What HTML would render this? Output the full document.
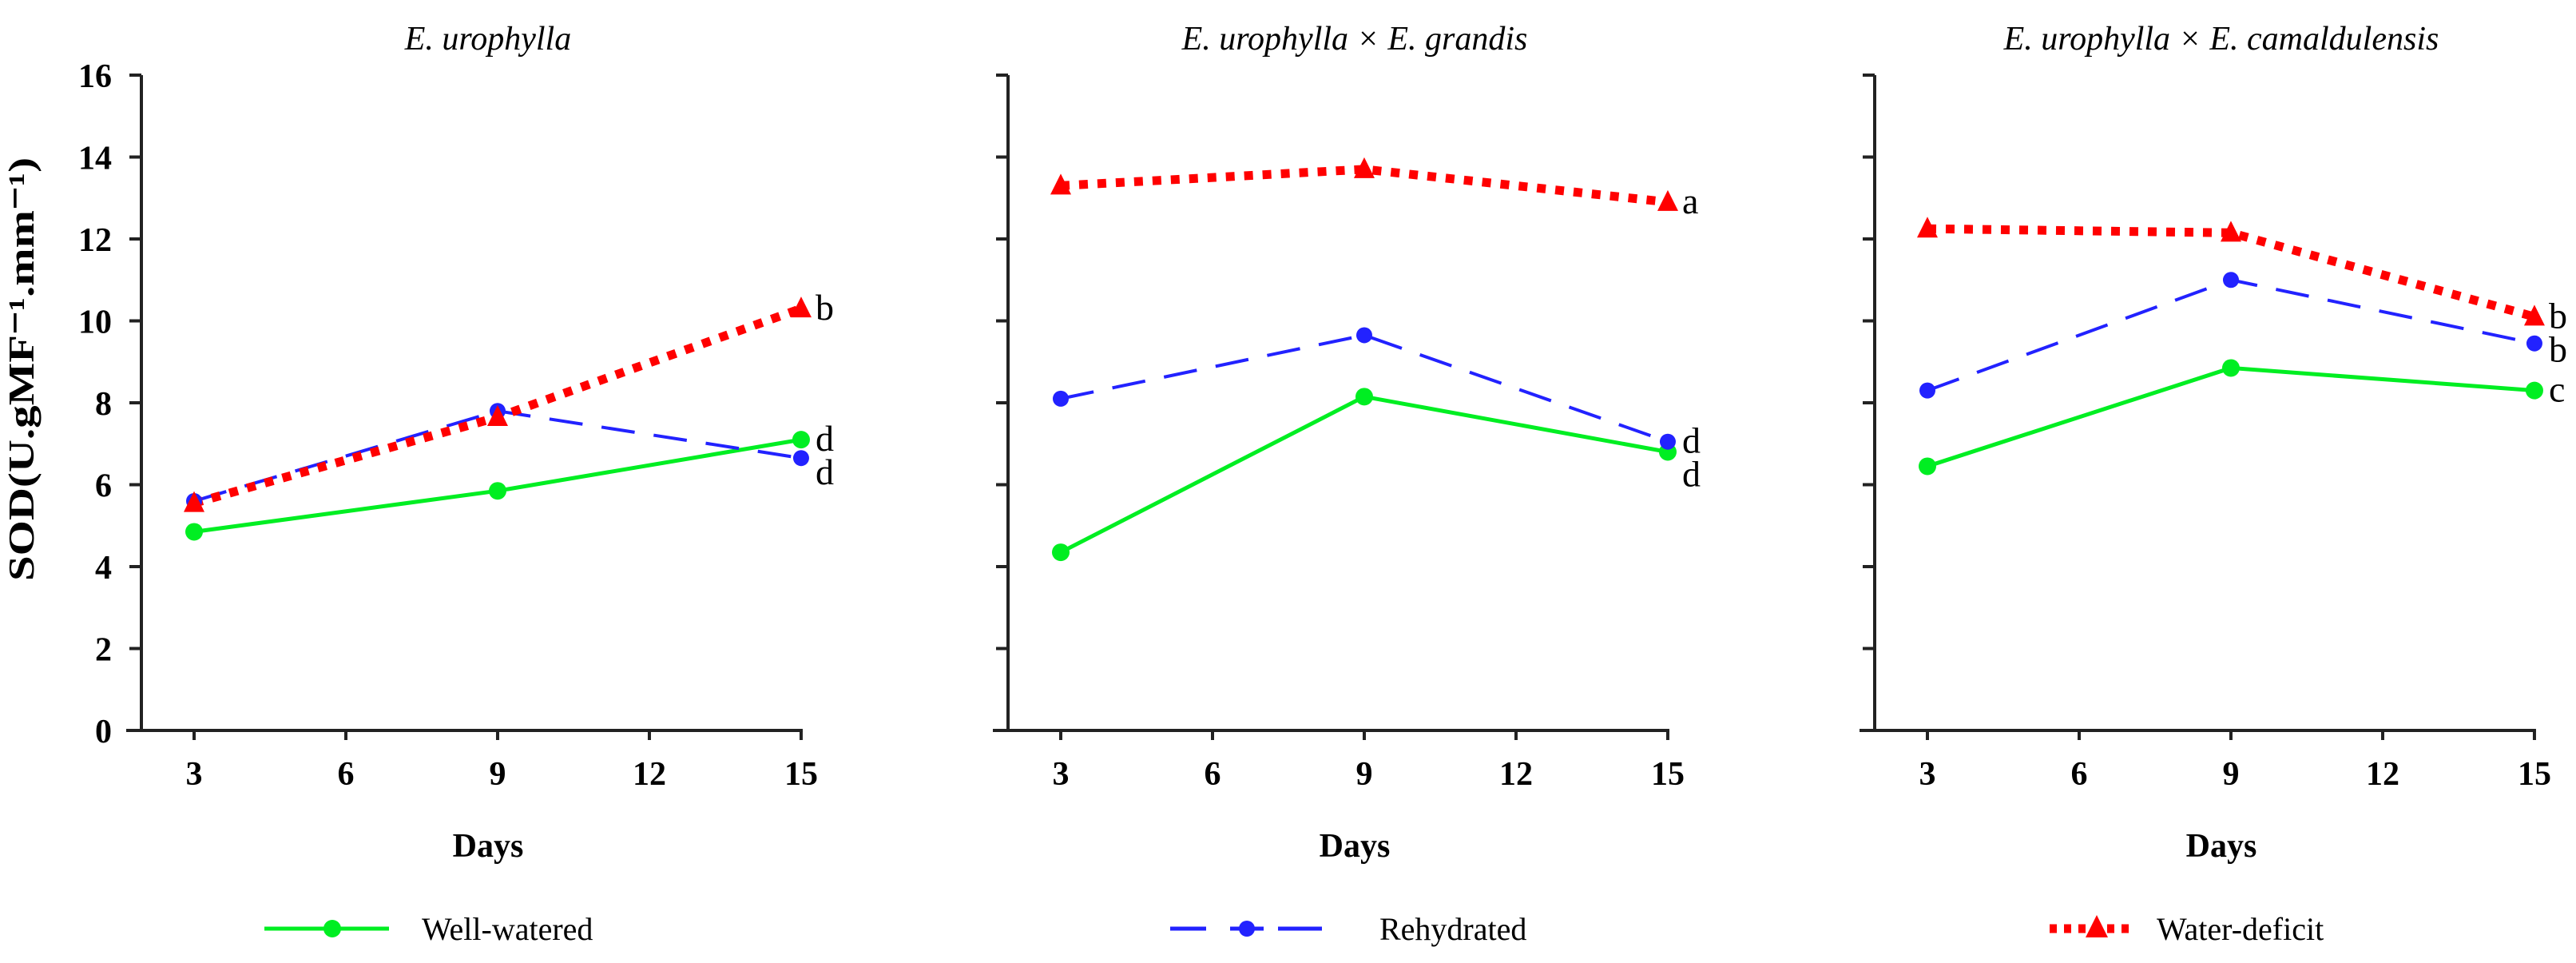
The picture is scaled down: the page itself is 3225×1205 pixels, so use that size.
<!DOCTYPE html>
<html><head><meta charset="utf-8"><style>
html,body{margin:0;padding:0;background:#fff;}
svg{display:block;font-family:"Liberation Serif",serif;}
</style></head><body>
<svg id="chart" width="3225" height="1205" viewBox="0 0 3225 1205">
<text x="42" y="462" transform="rotate(-90 42 462)" text-anchor="middle" font-weight="bold" font-size="46" textLength="530" lengthAdjust="spacingAndGlyphs">SOD(U.gMF⁻¹.mm⁻¹)</text>
<g id="panels"></g>
<g id="legend"></g>
</svg>
<script>
const titles = ["E. urophylla", "E. urophylla × E. grandis", "E. urophylla × E. camaldulensis"];
const days = [3, 9, 15];
const xTicks = [3, 6, 9, 12, 15];
const yTicks = [0, 2, 4, 6, 8, 10, 12, 14, 16];
const wellWatered = [[4.85, 5.85, 7.1], [4.35, 8.15, 6.8], [6.45, 8.85, 8.3]];
const rehydrated = [[5.6, 7.8, 6.65], [8.1, 9.65, 7.05], [8.3, 11.0, 9.45]];
const waterDeficit = [[5.55, 7.65, 10.3], [13.3, 13.7, 12.9], [12.25, 12.15, 10.1]];
const letters = [["d", "d", "b"], ["d", "d", "a"], ["c", "b", "b"]];

const NS = "http://www.w3.org/2000/svg";
const root = document.getElementById('panels');
function mk(tag, attrs, parent, txt) {
  const e = document.createElementNS(NS, tag);
  for (const k in attrs) e.setAttribute(k, attrs[k]);
  if (txt !== undefined) e.textContent = txt;
  parent.appendChild(e);
  return e;
}
const Y0 = 914, YU = 51.25, PANEL_W = 1085, AX0 = 177, DAY = 63.33;
function yS(v) { return Y0 - v * YU; }

for (let p = 0; p < 3; p++) {
  const ax = AX0 + p * PANEL_W;
  const xS = d => ax + 66 + (d - 3) * DAY;
  const g = mk('g', {}, root);
  
  
  const t = mk('text', {x: ax + 434, y: 62, 'text-anchor': 'middle', 'font-style': 'italic', 'font-size': 42}, g, titles[p]);
  
  
  const yl = mk('line', {x1: ax, y1: yS(16), x2: ax, y2: Y0, stroke: '#222', 'stroke-width': 4}, g);
  
  
  const xl = mk('line', {x1: ax - 19, y1: Y0, x2: xS(15) + 2, y2: Y0, stroke: '#222', 'stroke-width': 4}, g);
  
  
  yTicks.forEach(v => {
    const tk = mk('line', {x1: ax - 15, y1: yS(v), x2: ax, y2: yS(v), stroke: '#222', 'stroke-width': 4}, g);
    
    
    if (p === 0) {
      const tl = mk('text', {x: 140, y: yS(v) + 15, 'text-anchor': 'end', 'font-weight': 'bold', 'font-size': 42}, g, String(v));
      
      
    }
  });
  xTicks.forEach(d => {
    const tk = mk('line', {x1: xS(d), y1: Y0, x2: xS(d), y2: Y0 + 12, stroke: '#222', 'stroke-width': 4}, g);
    
    
    const tl = mk('text', {x: xS(d), y: 982, 'text-anchor': 'middle', 'font-weight': 'bold', 'font-size': 42}, g, String(d));
    
    
  });
  const dl = mk('text', {x: xS(9) - 12, y: 1072, 'text-anchor': 'middle', 'font-weight': 'bold', 'font-size': 42}, g, 'Days');
  
  

  const pts = arr => days.map((d, i) => xS(d) + ',' + yS(arr[i])).join(' ');
  const ww = mk('polyline', {points: pts(wellWatered[p]), fill: 'none', stroke: '#00ee22', 'stroke-width': 5}, g);
  
  
  const rh = mk('polyline', {points: pts(rehydrated[p]), fill: 'none', stroke: '#2222ff', 'stroke-width': 4, 'stroke-dasharray': '42 24'}, g);
  
  
  const wd = mk('polyline', {points: pts(waterDeficit[p]), fill: 'none', stroke: '#ff0000', 'stroke-width': 11, 'stroke-dasharray': '11 12'}, g);
  
  
  days.forEach((d, i) => {
    const c1 = mk('circle', {cx: xS(d), cy: yS(wellWatered[p][i]), r: 11, fill: '#00ee22'}, g);
    
    
    const c2 = mk('circle', {cx: xS(d), cy: yS(rehydrated[p][i]), r: 10, fill: '#2222ff'}, g);
    
    
    const x = xS(d), y = yS(waterDeficit[p][i]);
    const tr = mk('polygon', {points: (x - 13) + ',' + (y + 11) + ' ' + (x + 13) + ',' + (y + 11) + ' ' + x + ',' + (y - 15), fill: '#ff0000'}, g);
    
    
  });
  const lx = xS(15) + 18;
  const series = [wellWatered[p][2], rehydrated[p][2], waterDeficit[p][2]];
  const order = [0, 1, 2];
  let ys = series.map(v => yS(v) + 14);
  const idx = order.slice().sort((a, b) => ys[a] - ys[b]);
  for (let k = 1; k < idx.length; k++) {
    if (ys[idx[k]] - ys[idx[k - 1]] < 42) ys[idx[k]] = ys[idx[k - 1]] + 42;
  }
  order.forEach(s => {
    const l = mk('text', {x: lx, y: ys[s], 'font-size': 46}, g, letters[p][s]);
    
    
  });
}

const lg = document.getElementById('legend');
const items = [
  {label: 'Well-watered', tx: 528, type: 'ww'},
  {label: 'Rehydrated', tx: 1727, type: 'rh'},
  {label: 'Water-deficit', tx: 2700, type: 'wd'}
];
const LY = 1162;
items.forEach(it => {
  const g = mk('g', {}, lg);
  
  
  if (it.type === 'ww') {
    mk('line', {x1: 331, y1: LY, x2: 487, y2: LY, stroke: '#00ee22', 'stroke-width': 5}, g);
    mk('circle', {cx: 416, cy: LY, r: 11, fill: '#00ee22'}, g);
  } else if (it.type === 'rh') {
    mk('line', {x1: 1465, y1: LY, x2: 1510, y2: LY, stroke: '#2222ff', 'stroke-width': 5}, g);
    mk('line', {x1: 1540, y1: LY, x2: 1582, y2: LY, stroke: '#2222ff', 'stroke-width': 5}, g);
    mk('line', {x1: 1600, y1: LY, x2: 1655, y2: LY, stroke: '#2222ff', 'stroke-width': 5}, g);
    mk('circle', {cx: 1561, cy: LY, r: 10, fill: '#2222ff'}, g);
  } else {
    mk('line', {x1: 2566, y1: LY, x2: 2666, y2: LY, stroke: '#ff0000', 'stroke-width': 11, 'stroke-dasharray': '9 9'}, g);
    mk('polygon', {points: '2611,1173 2639,1173 2625,1145', fill: '#ff0000'}, g);
  }
  mk('text', {x: it.tx, y: LY + 14, 'font-size': 40}, g, it.label);
});
</script>
</body></html>
